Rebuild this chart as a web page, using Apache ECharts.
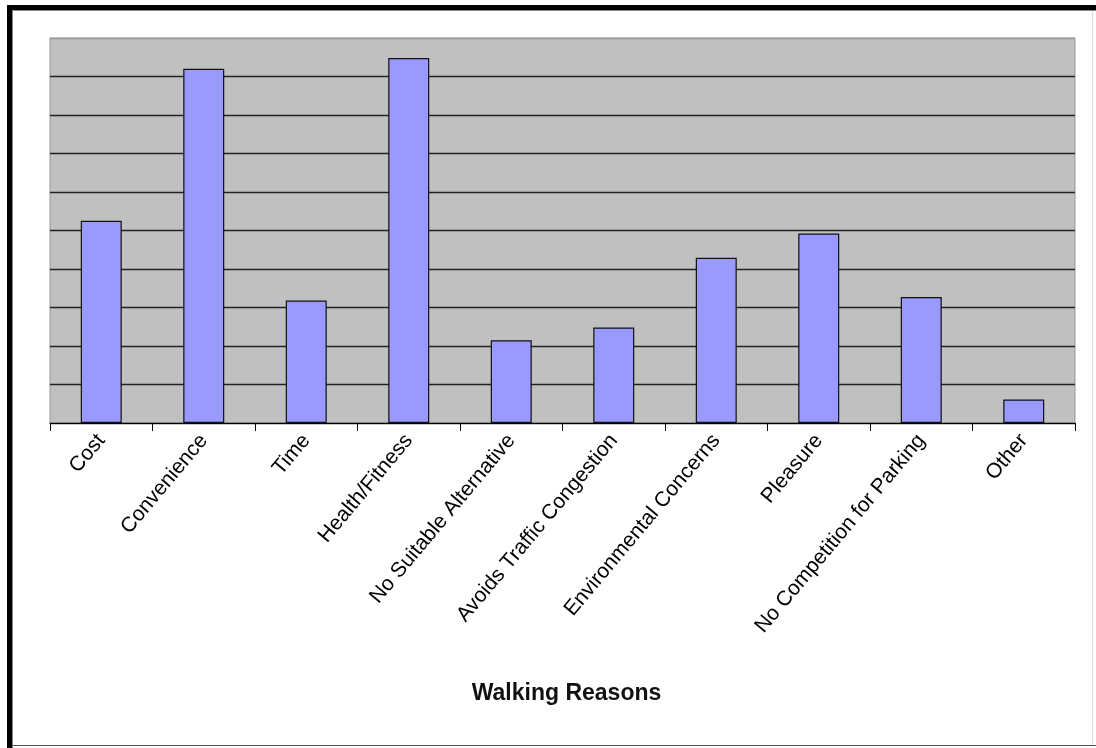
<!DOCTYPE html>
<html>
<head>
<meta charset="utf-8">
<script src="https://cdn.jsdelivr.net/npm/echarts@6/dist/echarts.min.js"></script>
<style>
  html, body { margin: 0; padding: 0; background: #fff; }
  #chart { width: 1096px; height: 748px; }
</style>
</head>
<body>
<div id="chart"></div>
<script>
const categories = ["Cost", "Convenience", "Time", "Health/Fitness", "No Suitable Alternative",
  "Avoids Traffic Congestion", "Environmental Concerns", "Pleasure", "No Competition for Parking", "Other"];
const values = [5.25, 9.2, 3.18, 9.48, 2.15, 2.48, 4.29, 4.92, 3.27, 0.61];
const axisTitle = "Walking Reasons";

const chart = echarts.init(document.getElementById('chart'), null, { renderer: 'canvas' });
const gridColors = ['#222','#222','#222','#222','#222','#222','#222','#222','#222','#222','#999'];
chart.setOption({
  animation: false,
  backgroundColor: '#fff',
  textStyle: { fontFamily: 'Arial, "Liberation Sans", sans-serif' },
  grid: {
    left: 50, right: 21, top: 38, bottom: 325,
    show: true, backgroundColor: '#C0C0C0', borderColor: '#999', borderWidth: 1,
    containLabel: false
  },
  xAxis: {
    type: 'category',
    data: categories,
    name: axisTitle,
    nameLocation: 'middle',
    nameGap: 259,
    nameTextStyle: { color: '#111', fontSize: 23, fontWeight: 'bold', fontFamily: 'Arial, "Liberation Sans", sans-serif',
      padding: [0, 0, 0, 8] },
    axisLine: { lineStyle: { color: '#000', width: 1 } },
    axisTick: { show: true, length: 8, interval: 0, lineStyle: { color: '#000' } },
    axisLabel: { interval: 0, rotate: 50, margin: 14, color: '#000', fontSize: 21,
      fontFamily: 'Arial, "Liberation Sans", sans-serif' },
    splitLine: { show: false }
  },
  yAxis: {
    type: 'value',
    min: 0, max: 10, interval: 1,
    axisLine: { show: false },
    axisTick: { show: false },
    axisLabel: { show: false },
    splitLine: { show: true, lineStyle: { color: gridColors, width: 1.3 } }
  },
  series: [{
    type: 'bar',
    data: values,
    barWidth: '40%',
    itemStyle: { color: '#9999FF', borderColor: '#111', borderWidth: 1.2 }
  }],
  graphic: [
    { type: 'rect', shape: { x: 7, y: 5, width: 1089, height: 5 }, style: { fill: '#000' }, silent: true },
    { type: 'rect', shape: { x: 7, y: 5, width: 5, height: 743 }, style: { fill: '#000' }, silent: true },
    { type: 'rect', shape: { x: 12, y: 10, width: 1084, height: 1 }, style: { fill: '#888' }, silent: true },
    { type: 'rect', shape: { x: 12, y: 10, width: 1, height: 738 }, style: { fill: '#888' }, silent: true },
    { type: 'rect', shape: { x: 12, y: 745, width: 1084, height: 1 }, style: { fill: '#555' }, silent: true },
    { type: 'rect', shape: { x: 1092, y: 11, width: 1, height: 734 }, style: { fill: '#ddd' }, silent: true }
  ]
});
</script>
</body>
</html>
